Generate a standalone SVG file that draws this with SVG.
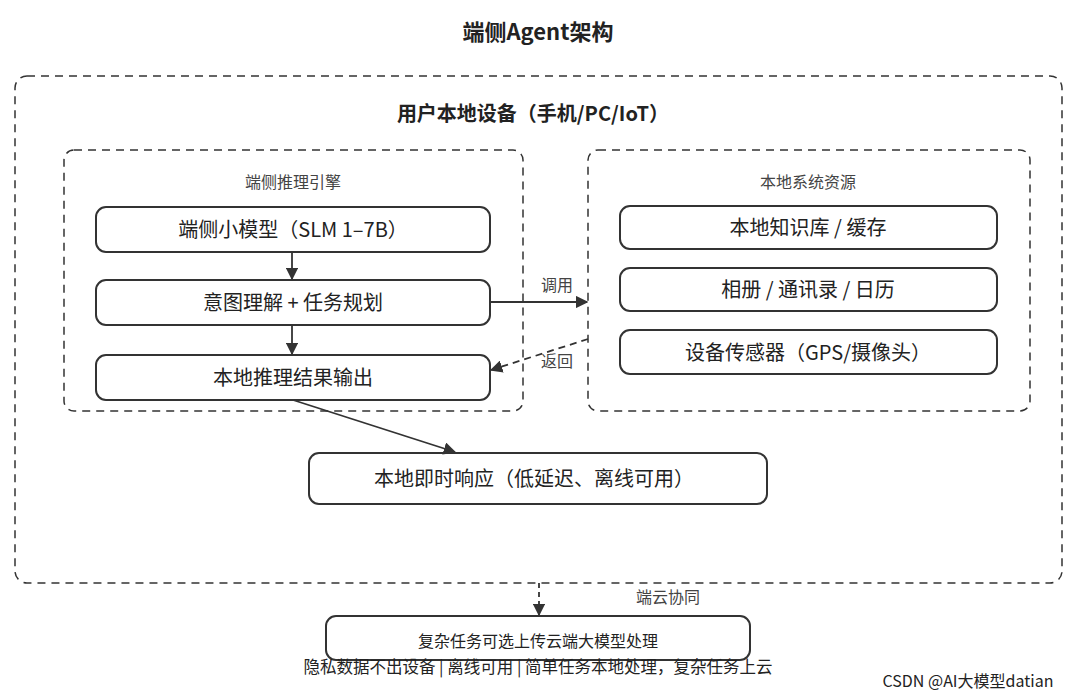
<svg xmlns="http://www.w3.org/2000/svg" width="1080" height="697" viewBox="0 0 1080 697">
<style>
text{font-family:"Noto Sans CJK SC","Liberation Sans",sans-serif;text-anchor:middle;fill:#222}
.grp{fill:none;stroke:#333;stroke-width:1.5;stroke-dasharray:8 6}
.box{fill:#fff;stroke:#333;stroke-width:2}
.bt{font-size:20px}
.lbl{font-size:16px;fill:#444}
.ln{stroke:#333;stroke-width:1.8;fill:none}
</style>
<defs><marker id="ah" viewBox="0 0 10 10" refX="9" refY="5" markerWidth="7" markerHeight="7" orient="auto"><path d="M0,0L10,5L0,10z" fill="#333"/></marker></defs>
<rect width="1080" height="697" fill="#fff"/>
<text x="538" y="40" font-size="22" font-weight="bold">端侧Agent架构</text>
<g id="device"><rect class="grp" x="15" y="76" width="1047" height="507" rx="12"/>
<text x="533" y="121" font-size="20" font-weight="bold">用户本地设备（手机/PC/IoT）</text></g>
<g id="engine"><rect class="grp" x="64" y="150" width="459" height="261" rx="10"/><text class="lbl" x="293" y="188">端侧推理引擎</text></g>
<g id="resources"><rect class="grp" x="588" y="150" width="442" height="261" rx="10"/><text class="lbl" x="808" y="188">本地系统资源</text></g>
<g id="slm"><rect class="box" x="96" y="207" width="394" height="45" rx="10"/><text class="bt" x="293" y="237">端侧小模型（SLM 1–7B）</text></g>
<g id="intent"><rect class="box" x="96" y="280" width="394" height="45" rx="10"/><text class="bt" x="293" y="310">意图理解 + 任务规划</text></g>
<g id="output"><rect class="box" x="96" y="355" width="394" height="45" rx="10"/><text class="bt" x="293" y="385">本地推理结果输出</text></g>
<g id="kb"><rect class="box" x="620" y="206" width="377" height="43" rx="10"/><text class="bt" x="808" y="235">本地知识库 / 缓存</text></g>
<g id="album"><rect class="box" x="620" y="268" width="377" height="43" rx="10"/><text class="bt" x="808" y="297">相册 / 通讯录 / 日历</text></g>
<g id="sensor"><rect class="box" x="620" y="330" width="377" height="44" rx="10"/><text class="bt" x="808" y="360">设备传感器（GPS/摄像头）</text></g>
<g id="resp"><rect class="box" x="309" y="453" width="458" height="51" rx="10"/><text class="bt" x="534" y="486">本地即时响应（低延迟、离线可用）</text></g>
<g id="cloud"><rect class="box" x="326" y="616" width="424" height="44" rx="10"/><text x="538" y="647" font-size="16" fill="#333">复杂任务可选上传云端大模型处理</text></g>
<g id="connectors">
<line class="ln" x1="292" y1="252" x2="292" y2="279" marker-end="url(#ah)"/>
<line class="ln" x1="292" y1="325" x2="292" y2="354" marker-end="url(#ah)"/>
<line class="ln" x1="490" y1="302" x2="587" y2="302" marker-end="url(#ah)"/>
<text class="lbl" x="557" y="291">调用</text>
<line class="ln" x1="588" y1="339" x2="491" y2="370" stroke-dasharray="7 5" marker-end="url(#ah)"/>
<text class="lbl" x="557" y="367">返回</text>
<line class="ln" x1="293" y1="400" x2="455" y2="452" marker-end="url(#ah)"/>
<line class="ln" x1="539" y1="583" x2="539" y2="615" stroke-dasharray="5 4" marker-end="url(#ah)"/>
<text class="lbl" x="668" y="603">端云协同</text>
</g>
<text x="538" y="673" font-size="16.5" fill="#444">隐私数据不出设备 | 离线可用 | 简单任务本地处理，复杂任务上云</text>
<text x="968" y="687" font-size="16" fill="#bbb">CSDN @AI大模型datian</text>
</svg>
